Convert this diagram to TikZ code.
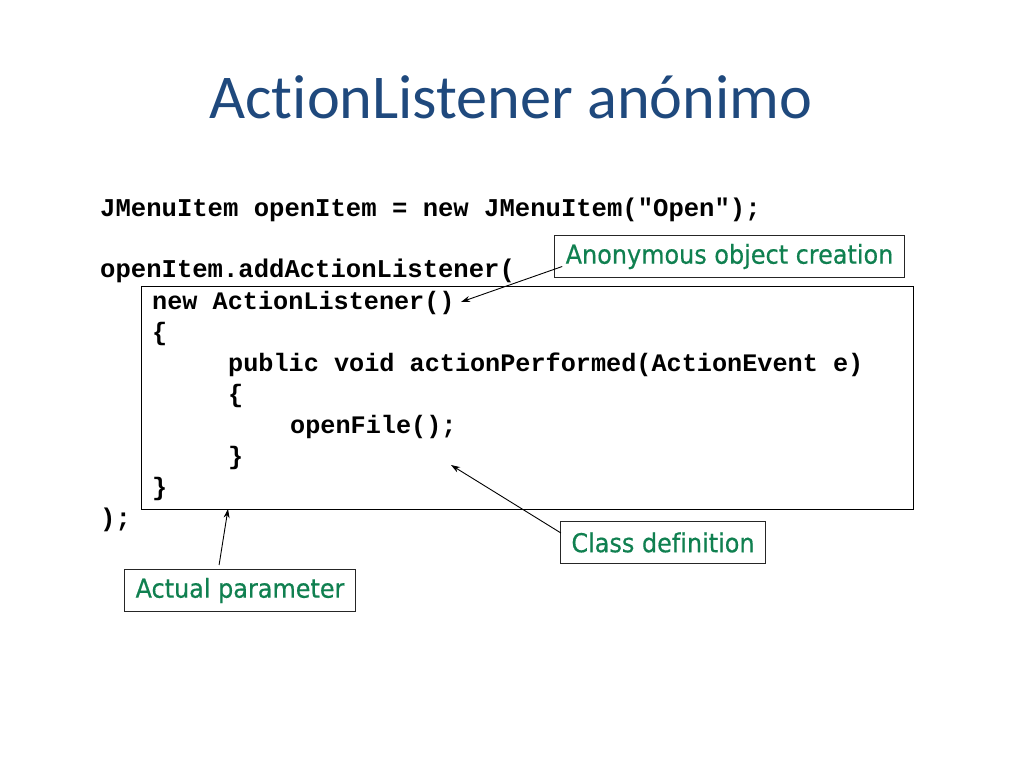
\documentclass[tikz,border=0pt]{standalone}
\usepackage{fontspec}
\setmainfont{Carlito}[Ligatures=NoCommon]
\newfontfamily\codefont{Liberation Mono}[BoldFont={Liberation Mono Bold}]
\newfontfamily\labelfont{DejaVu Sans}[FakeStretch=0.92,FakeBold=0.5,Ligatures=NoCommon]
\usetikzlibrary{arrows.meta}
\definecolor{titleblue}{RGB}{31,73,125}
\definecolor{labelgreen}{RGB}{16,128,80}
\tikzset{
  code/.style={anchor=base west, inner sep=0pt, font=\codefont\bfseries\fontsize{25.2}{30}\selectfont},
  outercode/.style={code, font=\codefont\bfseries\fontsize{25.6}{30}\selectfont},
  labelbox/.style={draw=black!85, line width=1pt, inner xsep=11pt, inner ysep=0pt, minimum height=42pt,
    text=labelgreen, font=\labelfont\fontsize{26}{30}\selectfont},
  callout/.style={line width=0.9pt, -{Stealth[length=9pt,width=6pt]}},
}
\begin{document}
\begin{tikzpicture}[x=1pt,y=-1pt]
\useasboundingbox[fill=white] (0,0) rectangle (1024,768);
\node[text=titleblue, font=\fontsize{62.3}{70}\selectfont, inner sep=0pt] (title) at (511,97) {ActionListener anónimo};
% code
\node[outercode] (l1) at (100,216) {JMenuItem openItem = new JMenuItem("Open");};
\node[outercode] (l2) at (100,277) {openItem.addActionListener(};
\node[code] (l3) at (152,309) {new ActionListener()};
\node[code] (l4) at (152,340) {\{};
\node[code] (l5) at (228,371) {public void actionPerformed(ActionEvent e)};
\node[code] (l6) at (228,402) {\{};
\node[code] (l7) at (290,433) {openFile();};
\node[code] (l8) at (228,464) {\}};
\node[code] (l9) at (152,495) {\}};
\node[outercode] (l10) at (100,526) {);};
% class box
\draw[line width=1pt] (141,286) coordinate (cbnw) rectangle (913,509) coordinate (cbse);
\coordinate (cbtarget) at (228,509);
% labels
\node[labelbox] (anon) at (729.5,256.5) {Anonymous object creation};
\node[labelbox] (cdef) at (663,542.5) {Class definition};
\node[labelbox] (apar) at (240,590.5) {Actual parameter};
% arrows
\coordinate (anonTip) at (461,302);
\coordinate (cdefTip) at (451,465);
\draw[callout] ([xshift=8pt,yshift=-10pt]anon.west) -- (anonTip);
\draw[callout] ([xshift=1pt,yshift=-12pt]cdef.north west) -- (cdefTip);
\draw[callout] ([xshift=95pt,yshift=4pt]apar.north west) -- (cbtarget);
\end{tikzpicture}
\end{document}
